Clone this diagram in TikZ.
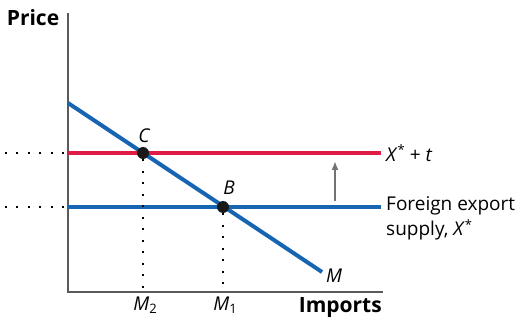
\documentclass[tikz,border=0pt]{standalone}
\usepackage{fontspec}
\setmainfont{Open Sans}
\usetikzlibrary{arrows.meta}
\definecolor{supblue}{RGB}{22,100,178}
\definecolor{tarred}{RGB}{222,28,70}
\definecolor{axisgray}{RGB}{90,90,90}
\tikzset{
    curve/.style={line width=4pt},
    guide/.style={line width=2pt, dash pattern=on 2pt off 9.5pt},
    pt/.style={circle, fill=black!90, inner sep=0pt, minimum size=12pt},
    lab/.style={font=\fontsize{19}{25}\selectfont, inner sep=0pt},
    itlab/.style={font=\fontsize{19}{25}\selectfont\itshape, inner sep=0pt},
    axlab/.style={font=\fontsize{21}{25}\selectfont\bfseries, inner sep=0pt}
}
\newcommand{\supstar}{\raisebox{0.35em}{\fontsize{13}{13}\selectfont *}}
\newcommand{\subnum}[1]{\raisebox{-0.2em}{\fontsize{13}{13}\selectfont #1}}
\begin{document}
\begin{tikzpicture}[x=1pt,y=-1pt]
        \useasboundingbox (0,0) rectangle (519,320);
        % axes
        \coordinate (O) at (68,292);
        \coordinate (ytop) at (68,13);
        \coordinate (xend) at (383,292);
        \draw[axisgray, line width=1.5pt] (ytop) -- (O) -- (xend);
        \node[axlab, anchor=base] (price) at (33,26) {Price};
        \node[axlab, anchor=base east] (imports) at (382,312) {Imports};
        % curves
        \coordinate (Mtop) at (68,103);
        \coordinate (Mbot) at (322,272);
        \coordinate (Xs0) at (68,207);
        \coordinate (Xs1) at (381,207);
        \coordinate (Xt0) at (68,153);
        \coordinate (Xt1) at (381,153);
        \draw[curve, tarred] (Xt0) -- (Xt1);
        \draw[curve, supblue] (Xs0) -- (Xs1);
        \draw[curve, supblue] (Mtop) -- (Mbot);
        % equilibrium points
        \node[pt] (C) at (143,153) {};
        \node[pt] (B) at (223,207) {};
        \coordinate (M2) at (143,292);
        \coordinate (M1) at (223,292);
        \coordinate (pC) at (0,153);
        \coordinate (pB) at (0,207);
        \coordinate (qC) at (64,153);
        \coordinate (qB) at (64,207);
        \draw[guide] (C) -- (M2);
        \draw[guide] (B) -- (M1);
        \draw[guide] (qC) -- (pC);
        \draw[guide] (qB) -- (pB);
        % labels
        \node[itlab, anchor=base] (Clab) at (144,143) {C};
        \node[itlab, anchor=base] (Blab) at (229,195) {B};
        \node[itlab, anchor=base] (Mlab) at (334,283) {M};
        \node[lab, anchor=base] (M2lab) at (145,310) {\textit{M}\subnum{2}};
        \node[lab, anchor=base] (M1lab) at (225,310) {\textit{M}\subnum{1}};
        \node[lab, anchor=west] (Xtlab) at (386,153) {\textit{X}\supstar{} + \textit{t}};
        \node[lab, anchor=base west] (Xslab1) at (386,211) {Foreign export};
        \node[lab, anchor=base west] (Xslab2) at (386,236) {supply, \textit{X}\supstar};
        % shift of supply
        \coordinate (arr0) at (335,201);
        \coordinate (arr1) at (335,161);
        \draw[-{Latex[length=9pt,width=7pt]}, axisgray!85, line width=2pt] (arr0) -- (arr1);
    \end{tikzpicture}
\end{document}
